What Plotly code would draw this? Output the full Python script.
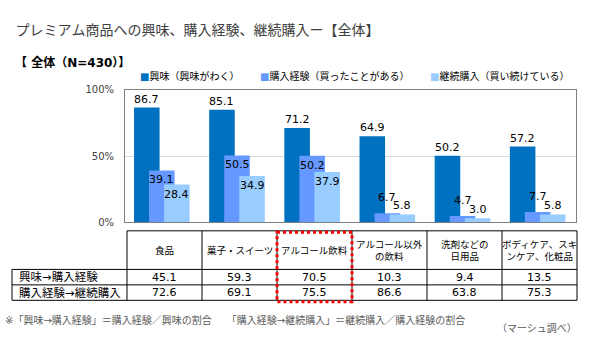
import plotly.graph_objects as go

# ---------------- data ----------------
categories = ["食品", "菓子・スイーツ", "アルコール飲料", "アルコール以外の飲料",
              "洗剤などの日用品", "ボディケア、スキンケア、化粧品"]
header_labels = ["食品", "菓子・スイーツ", "アルコール飲料", "アルコール以外<br>の飲料",
                 "洗剤などの<br>日用品", "ボディケア、スキ<br>ンケア、化粧品"]
series_names = ["興味（興味がわく）", "購入経験（買ったことがある）", "継続購入（買い続けている）"]
interest = [86.7, 85.1, 71.2, 64.9, 50.2, 57.2]
purchased = [39.1, 50.5, 50.2, 6.7, 4.7, 7.7]
continued = [28.4, 34.9, 37.9, 5.8, 3.0, 5.8]
row_labels = ["興味→購入経験", "購入経験→継続購入"]
rate_interest_to_purchase = [45.1, 59.3, 70.5, 10.3, 9.4, 13.5]
rate_purchase_to_continue = [72.6, 69.1, 75.5, 86.6, 63.8, 75.3]
y_ticks = [0, 50, 100]
highlight_index = 2

title_text = "プレミアム商品への興味、購入経験、継続購入ー【全体】"
subtitle_text = "【 全体（N=430）】"
note_text = "※「興味→購入経験」＝購入経験／興味の割合　　「購入経験→継続購入」＝継続購入／購入経験の割合"
source_text = "（マーシュ調べ）"

# ---------------- style ----------------
W, H = 600, 342
FONT = "DejaVu Sans, Noto Sans CJK JP"
colors = ["#0070C0", "#6699FF", "#99CCFF"]
bar_offsets = [-0.38, -0.18, 0.02]
bar_width = 0.34
plot_x = (125, 576)
plot_y = (87, 224)


def px(x):
    return x / W


def py(y):
    return 1 - y / H


series_values = [interest, purchased, continued]

fig = go.Figure()
for name, vals, col, off in zip(series_names, series_values, colors, bar_offsets):
    fig.add_trace(go.Bar(
        x=categories, y=vals, name=name, offset=off, width=bar_width,
        marker=dict(color=col, line=dict(width=0)), showlegend=False,
        hoverinfo="x+y+name",
    ))

annotations = []
shapes = []

# value labels
for s, vals in enumerate(series_values):
    center = bar_offsets[s] + bar_width / 2
    for j, v in enumerate(vals):
        if s == 0:
            ya, ys = "bottom", 0
        elif v >= 15:
            ya, ys = "top", -1
        elif s == 1:
            ya, ys = "bottom", 7
        else:
            ya, ys = "bottom", 0
        annotations.append(dict(
            x=j + center, y=v, xref="x", yref="y", text=f"{v:.1f}",
            showarrow=False, xanchor="center", yanchor=ya, yshift=ys,
            font=dict(family=FONT, size=11, color="#000000"),
        ))

# title / subtitle
annotations.append(dict(x=px(14), y=py(25), xref="paper", yref="paper", text=title_text,
                        showarrow=False, xanchor="left", yanchor="middle",
                        font=dict(family=FONT, size=14, color="#404040")))
annotations.append(dict(x=px(13), y=py(59), xref="paper", yref="paper", text=f"<b>{subtitle_text}</b>",
                        showarrow=False, xanchor="left", yanchor="middle",
                        font=dict(family=FONT, size=12, color="#000000")))

# legend
legend_x = [138, 258, 428]
for name, col, lx in zip(series_names, colors, legend_x):
    annotations.append(dict(x=px(lx), y=py(73), xref="paper", yref="paper",
                            text=f"<span style='color:{col}'>■</span>{name}",
                            showarrow=False, xanchor="left", yanchor="middle",
                            font=dict(family=FONT, size=10, color="#000000")))

# table geometry
tbl_left = 12
col0 = 127
col_w = (577 - 127) / len(categories)
y_top, y_head, y_r1, y_r2 = 233, 273, 289, 305


def colx(i):
    return col0 + i * col_w


line_style = dict(color="#000000", width=1)
# horizontal lines
shapes.append(dict(type="line", xref="paper", yref="paper", x0=px(col0), x1=px(colx(len(categories))),
                   y0=py(y_top), y1=py(y_top), line=line_style))
for yy in (y_head, y_r1, y_r2):
    shapes.append(dict(type="line", xref="paper", yref="paper", x0=px(tbl_left), x1=px(colx(len(categories))),
                       y0=py(yy), y1=py(yy), line=line_style))
# vertical lines
shapes.append(dict(type="line", xref="paper", yref="paper", x0=px(tbl_left), x1=px(tbl_left),
                   y0=py(y_head), y1=py(y_r2), line=line_style))
for i in range(len(categories) + 1):
    shapes.append(dict(type="line", xref="paper", yref="paper", x0=px(colx(i)), x1=px(colx(i)),
                       y0=py(y_top), y1=py(y_r2), line=line_style))

# header text
for i, lab in enumerate(header_labels):
    annotations.append(dict(x=px(colx(i) + col_w / 2), y=py((y_top + y_head) / 2), xref="paper", yref="paper",
                            text=lab, showarrow=False, xanchor="center", yanchor="middle",
                            font=dict(family=FONT, size=9.5, color="#000000")))
# rows
for r, (lab, vals) in enumerate(zip(row_labels, [rate_interest_to_purchase, rate_purchase_to_continue])):
    yc = (y_head + y_r1) / 2 if r == 0 else (y_r1 + y_r2) / 2
    annotations.append(dict(x=px(17), y=py(yc), xref="paper", yref="paper", text=lab,
                            showarrow=False, xanchor="left", yanchor="middle",
                            font=dict(family=FONT, size=11.5, color="#000000")))
    for i, v in enumerate(vals):
        annotations.append(dict(x=px(colx(i) + col_w / 2), y=py(yc), xref="paper", yref="paper",
                                text=f"{v:.1f}", showarrow=False, xanchor="center", yanchor="middle",
                                font=dict(family=FONT, size=11, color="#000000")))

# highlight box
shapes.append(dict(type="rect", xref="paper", yref="paper",
                   x0=px(colx(highlight_index)), x1=px(colx(highlight_index + 1)),
                   y0=py(y_top + 1.5), y1=py(y_r2 + 1.5),
                   line=dict(color="#FF0000", width=3, dash="dot")))

# notes
annotations.append(dict(x=px(3), y=py(325), xref="paper", yref="paper", text=note_text,
                        showarrow=False, xanchor="left", yanchor="middle",
                        font=dict(family=FONT, size=10, color="#595959")))
annotations.append(dict(x=px(579), y=py(334), xref="paper", yref="paper", text=source_text,
                        showarrow=False, xanchor="right", yanchor="middle",
                        font=dict(family=FONT, size=10, color="#595959")))

fig.update_layout(
    width=W, height=H,
    margin=dict(l=0, r=0, t=0, b=0),
    paper_bgcolor="white", plot_bgcolor="white",
    barmode="overlay",
    font=dict(family=FONT, size=10, color="#404040"),
    xaxis=dict(domain=[px(plot_x[0]), px(plot_x[1])], showticklabels=False, ticks="",
               showline=True, linecolor="#808080", linewidth=1, mirror=True,
               showgrid=False, zeroline=False, fixedrange=True),
    yaxis=dict(domain=[py(plot_y[1]), py(plot_y[0])], range=[0, 100], tickvals=y_ticks,
               ticktext=[f"{t}%" for t in y_ticks], showline=True, linecolor="#808080", linewidth=1,
               mirror=True, showgrid=True, gridcolor="#D9D9D9", gridwidth=1, zeroline=False,
               ticks="", ticklabelstandoff=8, tickfont=dict(family=FONT, size=10, color="#404040"),
               fixedrange=True),
    annotations=annotations,
    shapes=shapes,
)

fig.write_html("out.html")
